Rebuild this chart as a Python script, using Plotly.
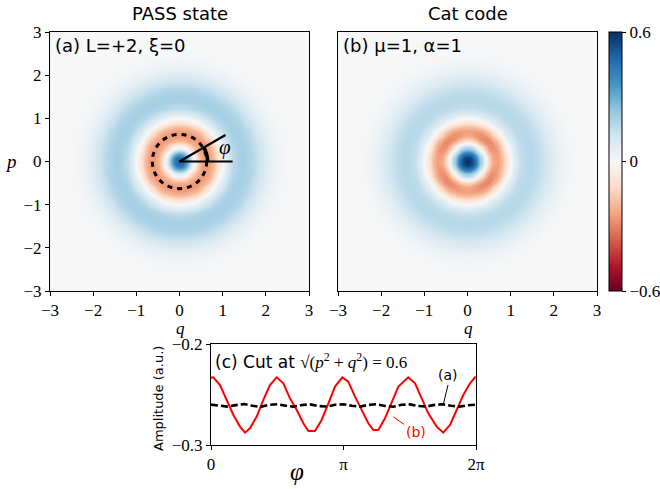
import numpy as np
import plotly.graph_objects as go

# ---------------- data ----------------
# radial profiles of the Wigner functions (value vs radius sqrt(q^2+p^2))
r_prof = [0.0, 0.1, 0.2, 0.3, 0.4, 0.5, 0.6, 0.7, 0.8, 0.9, 1.0, 1.1, 1.2, 1.3, 1.4,
          1.5, 1.6, 1.7, 1.8, 1.9, 2.0, 2.1, 2.2, 2.3, 2.4, 2.5, 2.6, 2.7, 2.8, 3.0, 5.0]
w_pass = [0.50, 0.44, 0.28, 0.07, -0.11, -0.22, -0.26, -0.25, -0.19, -0.09, 0.01, 0.08,
          0.14, 0.18, 0.20, 0.20, 0.19, 0.17, 0.14, 0.11, 0.08, 0.055, 0.035, 0.02,
          0.012, 0.006, 0.003, 0.001, 0.0, 0.0, 0.0]
w_cat = [0.60, 0.55, 0.42, 0.22, 0.03, -0.15, -0.26, -0.27, -0.20, -0.09, 0.01, 0.08,
         0.13, 0.16, 0.17, 0.17, 0.16, 0.14, 0.12, 0.09, 0.07, 0.05, 0.03, 0.02,
         0.01, 0.005, 0.002, 0.001, 0.0, 0.0, 0.0]
# radial weight of the angular (4-fold) modulation of the cat code
r_mod = [0.0, 0.3, 0.45, 0.6, 0.75, 0.9, 1.2, 5.0]
w_mod = [0.0, 0.0, 0.6, 1.0, 0.6, 0.0, 0.0, 0.0]

# cut at radius 0.6 : angle in units of pi, amplitude
phi_b_pi = [0.0, 0.018, 0.068, 0.118, 0.169, 0.219, 0.257, 0.294, 0.345, 0.395, 0.445,
            0.496, 0.546, 0.596, 0.647, 0.697, 0.735, 0.785, 0.835, 0.886, 0.936, 0.991,
            1.036, 1.087, 1.137, 1.187, 1.225, 1.263, 1.313, 1.364, 1.414, 1.489, 1.540,
            1.590, 1.640, 1.703, 1.753, 1.804, 1.854, 1.904, 1.955, 1.992, 2.0]
amp_b = [-0.2335, -0.2330, -0.2406, -0.2554, -0.2703, -0.2818, -0.2878, -0.2835, -0.2719,
         -0.2554, -0.2406, -0.2330, -0.2389, -0.2538, -0.2653, -0.2785, -0.2861, -0.2861,
         -0.2752, -0.2587, -0.2422, -0.2330, -0.2373, -0.2521, -0.2653, -0.2785, -0.2851,
         -0.2851, -0.2736, -0.2571, -0.2422, -0.2330, -0.2389, -0.2538, -0.2686, -0.2818,
         -0.2878, -0.2802, -0.2653, -0.2505, -0.2389, -0.2330, -0.2335]
phi_a_pi = [0.0, 0.0625, 0.125, 0.1875, 0.25, 0.3125, 0.375, 0.4375, 0.5, 0.5625, 0.625,
            0.6875, 0.75, 0.8125, 0.875, 0.9375, 1.0, 1.0625, 1.125, 1.1875, 1.25, 1.3125,
            1.375, 1.4375, 1.5, 1.5625, 1.625, 1.6875, 1.75, 1.8125, 1.875, 1.9375, 2.0]
amp_a = [-0.2600, -0.2612, -0.2620, -0.2605, -0.2595, -0.2612, -0.2622, -0.2603, -0.2596,
         -0.2610, -0.2621, -0.2604, -0.2598, -0.2615, -0.2619, -0.2601, -0.2597, -0.2612,
         -0.2620, -0.2603, -0.2596, -0.2613, -0.2621, -0.2602, -0.2598, -0.2614, -0.2619,
         -0.2603, -0.2597, -0.2611, -0.2620, -0.2606, -0.2600]

ticks_qp = [-3, -2, -1, 0, 1, 2, 3]
cbar_ticks = [-0.6, 0, 0.6]
cbar_text = ["\u22120.6", "0", "0.6"]
phi_ticks = [0.0, np.pi, 2 * np.pi]
phi_ticktext = ["0", "\u03c0", "2\u03c0"]
cut_radius = 0.6

# ---------------- build the 2-D tables ----------------
grid = np.linspace(-3, 3, 241)
Q, P = np.meshgrid(grid, grid)
R = np.hypot(Q, P)
PH = np.mod(np.arctan2(P, Q), 2 * np.pi)

phi_b = np.array(phi_b_pi) * np.pi
amp_b_arr = np.array(amp_b)
z_a = np.interp(R, r_prof, w_pass)
z_b = np.interp(R, r_prof, w_cat) + np.interp(R, r_mod, w_mod) * (
    np.interp(PH, phi_b, amp_b_arr) - amp_b_arr.mean())

# ---------------- colours / fonts ----------------
rdbu = ["rgb(103,0,31)", "rgb(178,24,43)", "rgb(214,96,77)", "rgb(244,165,130)",
        "rgb(253,219,199)", "rgb(247,247,247)", "rgb(209,229,240)", "rgb(146,197,222)",
        "rgb(67,147,195)", "rgb(33,102,172)", "rgb(5,48,97)"]
cscale = [[i / 10, c] for i, c in enumerate(rdbu)]
SERIF = "Liberation Serif"
SANS = "DejaVu Sans"

W, H = 660, 489
def px(x):
    return x / W
def py(y):
    return 1 - y / H

fig = go.Figure()
fig.add_trace(go.Heatmap(x=grid, y=grid, z=z_a, coloraxis="coloraxis", zsmooth="best",
                         xaxis="x", yaxis="y", hoverinfo="skip"))
fig.add_trace(go.Heatmap(x=grid, y=grid, z=z_b, coloraxis="coloraxis", zsmooth="best",
                         xaxis="x2", yaxis="y2", hoverinfo="skip"))
fig.add_trace(go.Scatter(x=phi_b, y=amp_b, mode="lines", xaxis="x3", yaxis="y3",
                         line=dict(color="#ff0000", width=2), showlegend=False))
fig.add_trace(go.Scatter(x=np.array(phi_a_pi) * np.pi, y=amp_a, mode="lines",
                         xaxis="x3", yaxis="y3",
                         line=dict(color="black", width=2.6, dash="7px,3px"),
                         showlegend=False))

ax_common = dict(showline=True, linecolor="black", linewidth=1, mirror=True,
                 ticks="outside", ticklen=4, tickwidth=1, tickcolor="black",
                 showgrid=False, zeroline=False, automargin=False,
                 tickfont=dict(family=SERIF, size=17, color="black"))

dom_y = [py(291), py(32)]
fig.update_layout(
    width=W, height=H, margin=dict(l=0, r=0, t=0, b=0, autoexpand=False),
    paper_bgcolor="white", plot_bgcolor="white", showlegend=False,
    coloraxis=dict(colorscale=cscale, cmin=-0.6, cmax=0.6,
                   colorbar=dict(x=px(609), xanchor="left", xpad=0, ypad=0,
                                 y=(dom_y[0] + dom_y[1]) / 2, yanchor="middle",
                                 len=259 / H, lenmode="fraction", thickness=13,
                                 thicknessmode="pixels",
                                 outlinewidth=1, outlinecolor="black",
                                 tickvals=cbar_ticks, ticktext=cbar_text,
                                 ticks="outside", ticklen=4, tickcolor="black",
                                 tickfont=dict(family=SERIF, size=17, color="black"))),
    xaxis=dict(domain=[px(50), px(309)], range=[-3, 3], anchor="y",
               tickvals=ticks_qp, **ax_common),
    yaxis=dict(domain=dom_y, range=[-3, 3], anchor="x",
               tickvals=ticks_qp, **ax_common),
    xaxis2=dict(domain=[px(338), px(597)], range=[-3, 3], anchor="y2",
                tickvals=ticks_qp, **ax_common),
    yaxis2=dict(domain=dom_y, range=[-3, 3], anchor="x2",
                tickvals=ticks_qp, showticklabels=False,
                **{k: v for k, v in ax_common.items() if k not in ("ticks",)}, ticks=""),
    xaxis3=dict(domain=[px(211), px(476)], range=[0, 2 * np.pi], anchor="y3",
                tickvals=phi_ticks, ticktext=phi_ticktext, **ax_common),
    yaxis3=dict(domain=[py(445), py(344)], range=[-0.3, -0.2], anchor="x3",
                tickvals=[-0.3, -0.2], ticktext=["\u22120.3", "\u22120.2"], **ax_common),
)

# ---------------- decorations in panel (a) ----------------
fig.add_shape(type="circle", xref="x", yref="y", x0=-0.63, y0=-0.63, x1=0.63, y1=0.63,
              line=dict(color="black", width=3, dash="5px,5px"))
fig.add_shape(type="line", xref="x", yref="y", x0=0, y0=0, x1=1.23, y1=0,
              line=dict(color="black", width=2.2))
ang = np.deg2rad(30)
fig.add_shape(type="line", xref="x", yref="y", x0=0, y0=0,
              x1=1.23 * np.cos(ang), y1=1.23 * np.sin(ang),
              line=dict(color="black", width=2.2))
arc_t = np.linspace(0, ang, 12)
arc_path = "M " + " L ".join(f"{0.65*np.cos(t):.4f},{0.65*np.sin(t):.4f}" for t in arc_t)
fig.add_shape(type="path", xref="x", yref="y", path=arc_path,
              line=dict(color="black", width=3.5))

ann = []
def text(x, y, s, size, family=SANS, color="black", xanchor="center", yanchor="middle",
         xref="paper", yref="paper", angle=0):
    ann.append(dict(x=x, y=y, xref=xref, yref=yref, text=s, showarrow=False,
                    xanchor=xanchor, yanchor=yanchor, textangle=angle,
                    font=dict(family=family, size=size, color=color)))

text(px(180), py(14), "PASS state", 18)
text(px(468), py(14), "Cat code", 18)
text(px(53), py(46), "(a) L=+2, \u03be=0", 18, xanchor="left")
text(px(341), py(46), "(b) \u03bc=1, \u03b1=1", 18, xanchor="left")
text(1.05, 0.33, "<i>\u03c6</i>", 21, family=SERIF, xref="x", yref="y")
text(px(11), py(161), "<i>p</i>", 19, family=SERIF)
text(px(180), py(328), "<i>q</i>", 17, family=SERIF)
text(px(468), py(328), "<i>q</i>", 17, family=SERIF)
text(px(213), py(361),
     "(c) Cut at <span style='font-family:Liberation Serif'>\u221a(<i>p</i><sup>2</sup> + "
     "<i>q</i><sup>2</sup>) = %.1f</span>" % cut_radius, 17, xanchor="left")
text(px(158), py(399), "Amplitude (a.u.)", 13, angle=-90)
text(px(297), py(471), "<i>\u03c6</i>", 25, family=SERIF)

fig.update_layout(annotations=ann)
fig.add_annotation(x=5.50, y=-0.2612, xref="x3", yref="y3", ax=5.62, ay=-0.2405,
                   axref="x3", ayref="y3", text="(a)", showarrow=True, arrowhead=0,
                   arrowwidth=1, arrowcolor="black", yanchor="bottom",
                   font=dict(family=SANS, size=14, color="black"))
fig.add_annotation(x=4.32, y=-0.272, xref="x3", yref="y3", ax=4.85, ay=-0.2875,
                   axref="x3", ayref="y3", text="(b)", showarrow=True, arrowhead=0,
                   arrowwidth=1, arrowcolor="#ff0000",
                   font=dict(family=SANS, size=14, color="#ff0000"))

fig.write_html("out.html", config={"displayModeBar": False},
               post_script="document.body.style.margin='0';document.body.style.overflow='hidden';")
